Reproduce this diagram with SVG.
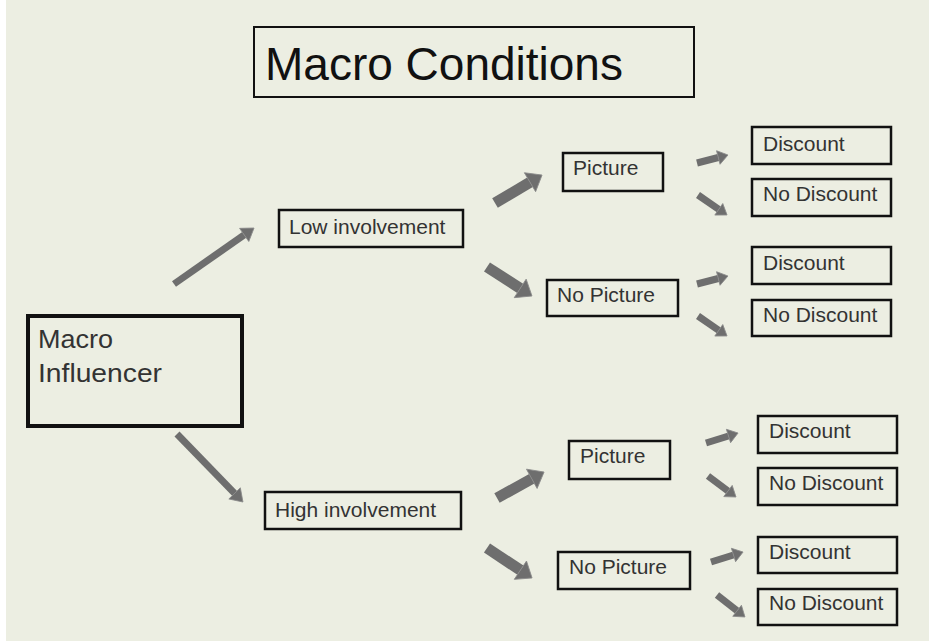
<svg xmlns="http://www.w3.org/2000/svg" width="929" height="644" viewBox="0 0 929 644">
<style>
.box{fill:none;stroke:#111;stroke-width:2.5}
.lbl{font-family:"Liberation Sans",Arial,sans-serif;font-size:21px;fill:#333}
.big{stroke:#6e6e6e;stroke-width:7;stroke-linecap:butt}
.med{stroke:#6e6e6e;stroke-width:11;stroke-linecap:butt}
.sm{stroke:#6e6e6e;stroke-width:7;stroke-linecap:butt}
</style>
<defs>
<marker id="hBig" markerUnits="userSpaceOnUse" orient="auto" refX="0" refY="0" markerWidth="20" markerHeight="20" overflow="visible"><path d="M0,-8 L12,0 L0,8 Z" fill="#6e6e6e" stroke="#8a8a8a" stroke-width="0.8"/></marker>
<marker id="hMed" markerUnits="userSpaceOnUse" orient="auto" refX="0" refY="0" markerWidth="30" markerHeight="30" overflow="visible"><path d="M0,-11 L14,0 L0,11 Z" fill="#6e6e6e" stroke="#8a8a8a" stroke-width="0.8"/></marker>
<marker id="hSm" markerUnits="userSpaceOnUse" orient="auto" refX="0" refY="0" markerWidth="20" markerHeight="20" overflow="visible"><path d="M0,-7 L10,0 L0,7 Z" fill="#6e6e6e" stroke="#8a8a8a" stroke-width="0.8"/></marker>
</defs>
<rect x="0" y="0" width="929" height="644" fill="#ffffff"/>
<rect x="6" y="0" width="923" height="641" fill="#ECEEE2"/>

<g id="title">
<rect x="254" y="27" width="440" height="70" fill="none" stroke="#111" stroke-width="2"/>
<text x="265" y="80" font-family="Liberation Sans, Arial, sans-serif" font-size="46" fill="#111">Macro Conditions</text>
</g>

<g id="macro-influencer">
<rect x="28" y="316" width="214" height="110" fill="none" stroke="#111" stroke-width="4"/>
<text x="38" y="348" font-family="Liberation Sans, Arial, sans-serif" font-size="26" fill="#333" textLength="75" lengthAdjust="spacingAndGlyphs">Macro</text>
<text x="38" y="382" font-family="Liberation Sans, Arial, sans-serif" font-size="26" fill="#333" textLength="124" lengthAdjust="spacingAndGlyphs">Influencer</text>
</g>

<g id="low-involvement">
<rect class="box" x="279" y="210" width="184" height="37"/>
<text class="lbl" x="289" y="234">Low involvement</text>
</g>
<g id="high-involvement">
<rect class="box" x="265" y="492" width="196" height="37"/>
<text class="lbl" x="275" y="517">High involvement</text>
</g>

<g id="picture-low">
<rect class="box" x="563" y="153" width="100" height="38"/>
<text class="lbl" x="573" y="175">Picture</text>
</g>
<g id="nopicture-low">
<rect class="box" x="547" y="280" width="131" height="36"/>
<text class="lbl" x="557" y="302">No Picture</text>
</g>
<g id="picture-high">
<rect class="box" x="569" y="441" width="101" height="38"/>
<text class="lbl" x="580" y="463">Picture</text>
</g>
<g id="nopicture-high">
<rect class="box" x="558" y="552" width="132" height="37"/>
<text class="lbl" x="569" y="574">No Picture</text>
</g>

<g id="discount-1">
<rect class="box" x="752" y="127" width="139" height="37" stroke-width="3"/>
<text class="lbl" x="763" y="151">Discount</text>
</g>
<g id="nodiscount-1">
<rect class="box" x="752" y="179" width="139" height="37" stroke-width="3"/>
<text class="lbl" x="763" y="201">No Discount</text>
</g>
<g id="discount-2">
<rect class="box" x="752" y="247" width="139" height="37" stroke-width="3"/>
<text class="lbl" x="763" y="270">Discount</text>
</g>
<g id="nodiscount-2">
<rect class="box" x="752" y="300" width="139" height="36" stroke-width="3"/>
<text class="lbl" x="763" y="322">No Discount</text>
</g>
<g id="discount-3">
<rect class="box" x="758" y="416" width="139" height="37" stroke-width="3"/>
<text class="lbl" x="769" y="438">Discount</text>
</g>
<g id="nodiscount-3">
<rect class="box" x="758" y="468" width="139" height="37" stroke-width="3"/>
<text class="lbl" x="769" y="490">No Discount</text>
</g>
<g id="discount-4">
<rect class="box" x="758" y="537" width="139" height="36" stroke-width="3"/>
<text class="lbl" x="769" y="559">Discount</text>
</g>
<g id="nodiscount-4">
<rect class="box" x="758" y="589" width="139" height="36" stroke-width="3"/>
<text class="lbl" x="769" y="610">No Discount</text>
</g>

<g id="connectors">
<line class="big" x1="174" y1="284" x2="244.2" y2="234.9" marker-end="url(#hBig)"/>
<line class="big" x1="177" y1="434" x2="234.6" y2="493.4" marker-end="url(#hBig)"/>
<line class="med" x1="495" y1="203" x2="530.0" y2="182.2" marker-end="url(#hMed)"/>
<line class="med" x1="487" y1="267" x2="520.2" y2="288.4" marker-end="url(#hMed)"/>
<line class="med" x1="497" y1="498" x2="531.8" y2="478.8" marker-end="url(#hMed)"/>
<line class="med" x1="487" y1="548" x2="520.4" y2="570.2" marker-end="url(#hMed)"/>
<line class="sm" x1="697" y1="163" x2="718.3" y2="157.5" marker-end="url(#hSm)"/>
<line class="sm" x1="698" y1="195" x2="718.8" y2="209.3" marker-end="url(#hSm)"/>
<line class="sm" x1="697" y1="284" x2="718.3" y2="278.5" marker-end="url(#hSm)"/>
<line class="sm" x1="698" y1="316" x2="718.8" y2="330.3" marker-end="url(#hSm)"/>
<line class="sm" x1="706" y1="443" x2="728.5" y2="436.0" marker-end="url(#hSm)"/>
<line class="sm" x1="708" y1="476" x2="728" y2="491" marker-end="url(#hSm)"/>
<line class="sm" x1="711" y1="562" x2="733.5" y2="555.0" marker-end="url(#hSm)"/>
<line class="sm" x1="717" y1="595" x2="737.1" y2="610.8" marker-end="url(#hSm)"/>
</g>
</svg>
